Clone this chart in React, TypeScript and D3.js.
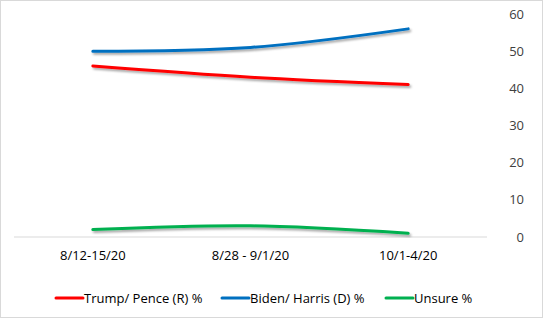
import React from "react";
import * as d3 from "d3";

const categories = ["8/12-15/20", "8/28 - 9/1/20", "10/1-4/20"];
const trump = [46, 43, 41];
const biden = [50, 51, 56];
const unsure = [2, 3, 1];
const yTicks = [0, 10, 20, 30, 40, 50, 60];
const seriesNames = ["Trump/ Pence (R) %", "Biden/ Harris (D) %", "Unsure %"];
const seriesColors = ["#ff0000", "#0070c0", "#00b050"];

export default function App() {
  const W = 543, H = 318;
  const x = d3.scaleBand<string>().domain(categories).range([14, 487]);
  const y = d3.scaleLinear().domain([0, 60]).range([237, 14]);
  const line = d3
    .line<number>()
    .x((_, i) => (x(categories[i]) as number) + x.bandwidth() / 2)
    .y((d) => y(d))
    .curve(d3.curveCatmullRom.alpha(0.5));
  const series = [trump, biden, unsure];
  const legendX = [56, 222, 386];
  const font = "'Open Sans', 'Liberation Sans', Arial, sans-serif";
  return (
    <svg
      width={W}
      height={H}
      style={{ position: "absolute", left: 0, top: 0, background: "#fff" }}
    >
      <defs>
        <filter id="sh" x="-10%" y="-50%" width="120%" height="200%">
          <feDropShadow dx="1.5" dy="2" stdDeviation="1" floodColor="#000" floodOpacity="0.35" />
        </filter>
      </defs>
      <rect x={0.5} y={0.5} width={W - 1} height={H - 1} fill="#fff" stroke="#d9d9d9" />
      <line x1={14} x2={487} y1={y(0)} y2={y(0)} stroke="#d9d9d9" strokeWidth={1} />
      {yTicks.map((t) => (
        <text
          key={t}
          x={524}
          y={y(t)}
          dy="0.35em"
          textAnchor="end"
          fontSize={13}
          fontFamily={font}
          fill="#404040"
        >
          {t}
        </text>
      ))}
      {categories.map((c) => (
        <text
          key={c}
          x={(x(c) as number) + x.bandwidth() / 2}
          y={255}
          dy="0.35em"
          textAnchor="middle"
          fontSize={13}
          fontFamily={font}
          fill="#000"
        >
          {c}
        </text>
      ))}
      {series.map((s, i) => (
        <path
          key={i}
          d={line(s) as string}
          fill="none"
          stroke={seriesColors[i]}
          strokeWidth={3}
          strokeLinecap="round"
          filter="url(#sh)"
        />
      ))}
      {seriesNames.map((n, i) => (
        <g key={n}>
          <line
            x1={legendX[i]}
            x2={legendX[i] + 27}
            y1={298}
            y2={298}
            stroke={seriesColors[i]}
            strokeWidth={3}
            strokeLinecap="round"
          />
          <text
            x={legendX[i] + 28}
            y={298}
            dy="0.35em"
            fontSize={13}
            fontFamily={font}
            fill="#000"
          >
            {n}
          </text>
        </g>
      ))}
    </svg>
  );
}
